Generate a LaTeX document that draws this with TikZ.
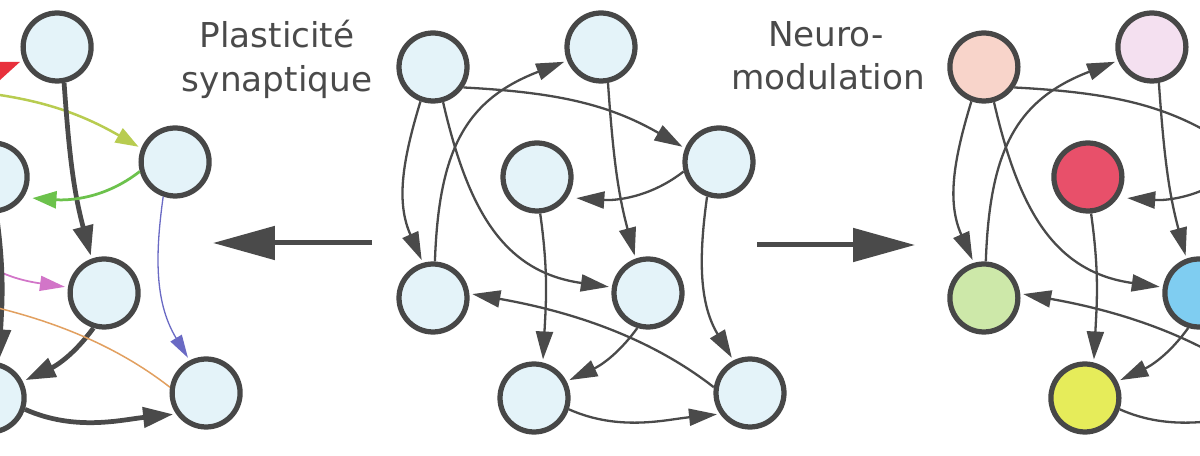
\documentclass[tikz,border=0pt]{standalone}
\usepackage{fontspec}
\setmainfont{DejaVu Sans}
\usetikzlibrary{arrows.meta}
\definecolor{ndline}{HTML}{474747}
\definecolor{ndfill}{HTML}{E4F3F9}
\definecolor{edcol}{HTML}{4A4A4A}
\definecolor{txtcol}{HTML}{4A4A4A}
\definecolor{cpeach}{HTML}{F8D4CA}
\definecolor{cpink}{HTML}{F4E0F0}
\definecolor{cred}{HTML}{E8506A}
\definecolor{cgreen}{HTML}{CDE8A9}
\definecolor{cblue}{HTML}{7FCDF1}
\definecolor{cyell}{HTML}{E6EC5A}
\definecolor{eyg}{HTML}{B8CC50}
\definecolor{egr}{HTML}{6CC24C}
\definecolor{emag}{HTML}{D275C8}
\definecolor{ebl}{HTML}{6A6AC4}
\definecolor{eor}{HTML}{E2A060}
\definecolor{ered}{HTML}{E8303C}
\tikzset{
  nd/.style={circle, draw=ndline, line width=0.105cm, minimum size=1.36cm, inner sep=0pt, fill=ndfill},
  ed/.style={draw=edcol, line width=0.046cm, -{Triangle[length=0.56cm,width=0.34cm]}, shorten >=0.06cm},
  thk/.style={draw=edcol, line width=0.095cm, -{Triangle[length=0.6cm,width=0.4cm]}, shorten >=0.06cm},
  txt/.style={font=\fontsize{19.5}{24}\selectfont, text=txtcol, inner sep=0pt, anchor=base},
  bigarrow/.style={draw=edcol, line width=0.1cm, -{Triangle[length=1.24cm,width=0.66cm]}},
  f1/.style={}, f2/.style={}, f3/.style={}, f4/.style={},
  f5/.style={}, f6/.style={}, f7/.style={}, f8/.style={},
  e1/.style={ed}, e2/.style={ed}, e3/.style={ed}, e4/.style={ed}, e5/.style={ed}, e6/.style={ed},
  e7/.style={ed}, e8/.style={ed}, e9/.style={ed}, e10/.style={ed}, e11/.style={ed},
}
\newcommand\netnodes[1]{%
  \node[nd,f1] (#1a) at (433,389) {};
  \node[nd,f2] (#1b) at (601,409) {};
  \node[nd,f3] (#1c) at (719,294) {};
  \node[nd,f4] (#1d) at (537,279) {};
  \node[nd,f5] (#1e) at (433,158) {};
  \node[nd,f6] (#1f) at (648,163) {};
  \node[nd,f7] (#1g) at (534,58) {};
  \node[nd,f8] (#1h) at (750,63) {};
}
\newcommand\netedges[1]{%
  \draw[e1] (#1a.-34) .. controls +(-3:90) and +(150:90) .. (#1c.158);
  \draw[e2] (#1a.-110) .. controls +(-107:65) and +(114:65) .. (#1e.106);
  \draw[e3] (#1a.-74) .. controls +(-77:110) and +(172:110) .. (#1f.171);
  \draw[e4] (#1e.87) .. controls +(88:110) and +(-159:110) .. (#1b.-158);
  \draw[e5] (#1b.-79) .. controls +(-86:70) and +(105:70) .. (#1f.110);
  \draw[e6, shorten >=0.18cm] (#1c.-165) .. controls +(-142:45) and +(-4:45) .. (#1d.-34);
  \draw[e7] (#1c.-109) .. controls +(-98:65) and +(121:65) .. (#1h.117);
  \draw[e8] (#1d.-85) .. controls +(-82:60) and +(87:60) .. (#1g.76);
  \draw[e9] (#1f.-107) .. controls +(-126:35) and +(25:35) .. (#1g.27);
  \draw[e10] (#1h.171) .. controls +(142:90) and +(-10:90) .. (#1e.7);
  \draw[e11] (#1g.-18) .. controls +(-24:55) and +(186:55) .. (#1h.-145);
}
\begin{document}
\begin{tikzpicture}[x=0.02cm,y=0.02cm]
\useasboundingbox (0,0) rectangle (1200,456);
\clip (0,0) rectangle (1200,456);
\fill[white] (0,0) rectangle (1200,456);
% left network (synaptic plasticity)
\begin{scope}[xshift=-10.88cm,
  e1/.style={draw=eyg, line width=0.05cm, -{Triangle[length=0.46cm,width=0.32cm]}, shorten >=0.06cm},
  e3/.style={draw=emag, line width=0.035cm, -{Triangle[length=0.5cm,width=0.3cm]}, shorten >=0.06cm},
  e4/.style={draw=ered, line width=0.09cm, -{Triangle[length=0.56cm,width=0.4cm]}, shorten >=0.06cm},
  e5/.style={thk},
  e6/.style={draw=egr, line width=0.055cm, -{Triangle[length=0.48cm,width=0.34cm]}, shorten >=0.06cm},
  e7/.style={draw=ebl, line width=0.026cm, -{Triangle[length=0.46cm,width=0.26cm]}, shorten >=0.06cm},
  e8/.style={thk}, e9/.style={thk},
  e10/.style={draw=eor, line width=0.03cm, -{Triangle[length=0.4cm,width=0.24cm]}, shorten >=0.06cm},
  e11/.style={thk}]
  \netnodes{L}
  \netedges{L}
\end{scope}
% centre network
\begin{scope}
  \netnodes{C}
  \netedges{C}
\end{scope}
% right network (neuromodulation)
\begin{scope}[xshift=11.02cm,
  f1/.style={fill=cpeach}, f2/.style={fill=cpink}, f4/.style={fill=cred},
  f5/.style={fill=cgreen}, f6/.style={fill=cblue}, f7/.style={fill=cyell}]
  \netnodes{R}
  \netedges{R}
\end{scope}
% labels
\node[txt] (t1) at (277,408) {Plasticité};
\node[txt] (t2) at (277,364) {synaptique};
\node[txt] (t3) at (826,409) {Neuro-};
\node[txt] (t4) at (828,366) {modulation};
% big arrows
\coordinate (la1) at (372,213);
\coordinate (la2) at (213,213);
\coordinate (ra1) at (757,211);
\coordinate (ra2) at (915,211);
\draw[bigarrow] (la1) -- (la2);
\draw[bigarrow] (ra1) -- (ra2);
\end{tikzpicture}
\end{document}
